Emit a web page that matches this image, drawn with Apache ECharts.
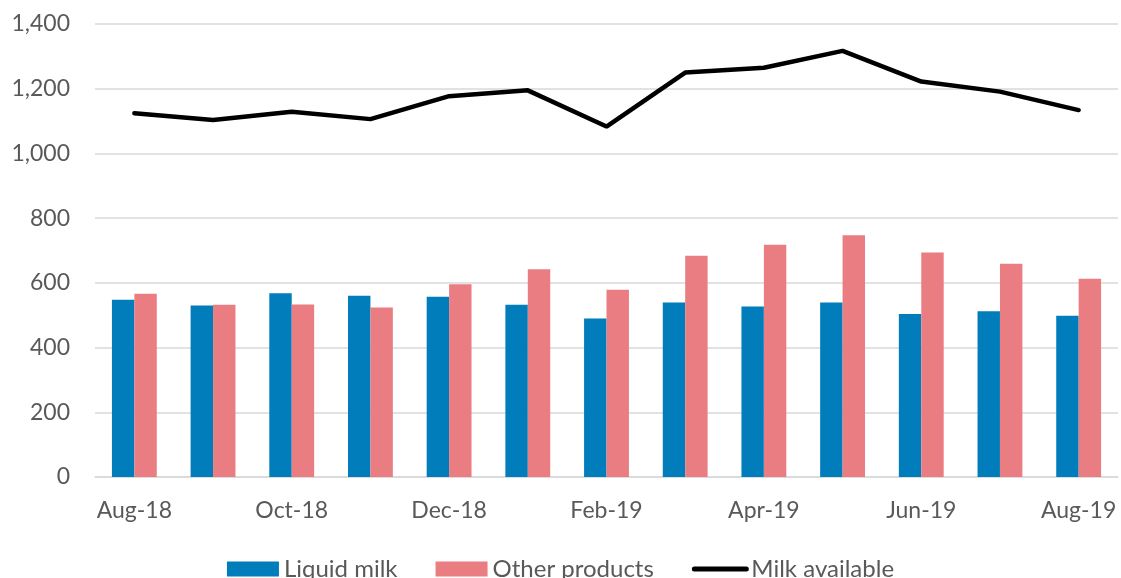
<!DOCTYPE html>
<html>
<head>
<meta charset="utf-8">
<script src="https://cdn.jsdelivr.net/npm/echarts@6/dist/echarts.min.js"></script>
<style>
  html, body { margin: 0; padding: 0; background: #fff; }
  #main { width: 1121px; height: 578px; }
</style>
</head>
<body>
<div id="main"></div>
<script>
var months = ['Aug-18', 'Sep-18', 'Oct-18', 'Nov-18', 'Dec-18', 'Jan-19', 'Feb-19',
  'Mar-19', 'Apr-19', 'May-19', 'Jun-19', 'Jul-19', 'Aug-19'];
var liquidMilk = [548, 530, 568, 560, 557, 532, 490, 539, 527, 539, 504, 512, 498];
var otherProducts = [566, 532, 533, 524, 596, 642, 579, 684, 718, 747, 694, 659, 613];
var milkAvailable = [1124, 1103, 1129, 1106, 1177, 1195, 1083, 1250, 1265, 1317, 1222, 1191, 1134];

var font = 'Lato, "Open Sans", sans-serif';
var chart = echarts.init(document.getElementById('main'));

chart.setOption({
  animation: false,
  textStyle: { fontFamily: font },
  grid: { left: 95, right: 3, top: 24, bottom: 101 },
  legend: {
    bottom: -8,
    left: 'center',
    itemWidth: 52,
    itemHeight: 15,
    itemGap: 38,
    textStyle: { fontSize: 24, color: '#595959', fontFamily: font },
    data: [
      { name: 'Liquid milk', icon: 'rect' },
      { name: 'Other products', icon: 'rect' },
      { name: 'Milk available', itemStyle: { opacity: 0 }, lineStyle: { width: 5, cap: 'round', color: '#000' } }
    ]
  },
  xAxis: {
    type: 'category',
    data: months,
    axisLine: { lineStyle: { color: '#d9d9d9', width: 1.5 } },
    axisTick: { interval: 1, length: 7, lineStyle: { color: '#d9d9d9', width: 1.5 } },
    axisLabel: { interval: 1, color: '#595959', fontSize: 23, margin: 22, fontFamily: font }
  },
  yAxis: {
    type: 'value',
    min: 0,
    max: 1400,
    interval: 200,
    axisLine: { show: false },
    axisTick: { show: false },
    splitLine: { lineStyle: { color: '#d9d9d9', width: 1.5 } },
    axisLabel: {
      color: '#595959', fontSize: 23, margin: 25, fontFamily: font,
      formatter: function (v) { return v.toLocaleString('en-US'); }
    }
  },
  series: [
    {
      name: 'Liquid milk',
      type: 'bar',
      data: liquidMilk,
      barGap: '0%',
      barCategoryGap: '43%',
      itemStyle: { color: '#007dba' }
    },
    {
      name: 'Other products',
      type: 'bar',
      data: otherProducts,
      itemStyle: { color: '#e97d82' }
    },
    {
      name: 'Milk available',
      type: 'line',
      data: milkAvailable,
      symbol: 'none',
      lineStyle: { color: '#000', width: 4.5, cap: 'round' },
      itemStyle: { color: '#000' }
    }
  ]
});
</script>
</body>
</html>
